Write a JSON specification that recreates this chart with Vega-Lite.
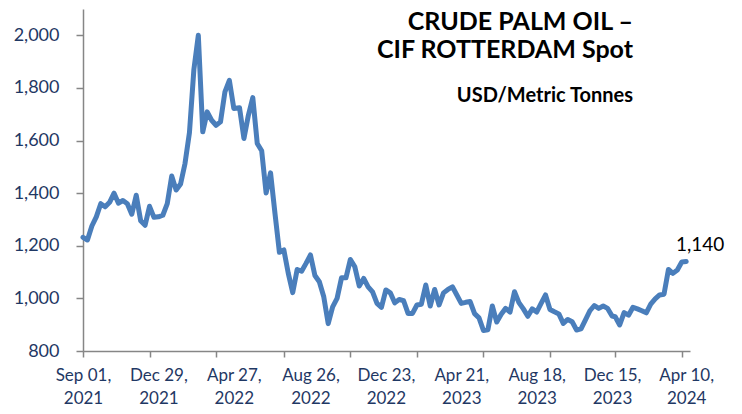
{
  "$schema": "https://vega.github.io/schema/vega-lite/v6.json",
  "autosize": "none",
  "width": 607,
  "height": 342,
  "padding": {"left": 83, "top": 9, "right": 52, "bottom": 63},
  "background": "white",
  "config": {"view": {"stroke": null}, "font": "Lato"},
  "title": {
    "text": ["CRUDE PALM OIL –", "CIF ROTTERDAM Spot"],
    "subtitle": "USD/Metric Tonnes",
    "anchor": "end",
    "frame": "group",
    "dx": -57,
    "dy": 101,
    "font": "Lato",
    "fontSize": 25,
    "fontWeight": "bold",
    "color": "black",
    "lineHeight": 28,
    "subtitleFont": "Lato",
    "subtitleFontSize": 20,
    "subtitleFontWeight": "bold",
    "subtitleColor": "black",
    "subtitlePadding": 23
  },
  "data": {
    "format": {"parse": {"date": "date"}},
    "values": [
      {"date": "2021-09-01", "price": 1232},
      {"date": "2021-09-08", "price": 1222},
      {"date": "2021-09-15", "price": 1275},
      {"date": "2021-09-22", "price": 1310},
      {"date": "2021-09-29", "price": 1360},
      {"date": "2021-10-06", "price": 1348},
      {"date": "2021-10-13", "price": 1365},
      {"date": "2021-10-20", "price": 1400},
      {"date": "2021-10-27", "price": 1362},
      {"date": "2021-11-03", "price": 1372},
      {"date": "2021-11-10", "price": 1360},
      {"date": "2021-11-17", "price": 1320},
      {"date": "2021-11-24", "price": 1392},
      {"date": "2021-12-01", "price": 1295},
      {"date": "2021-12-08", "price": 1278},
      {"date": "2021-12-15", "price": 1350},
      {"date": "2021-12-22", "price": 1308},
      {"date": "2021-12-29", "price": 1310},
      {"date": "2022-01-05", "price": 1316},
      {"date": "2022-01-12", "price": 1360},
      {"date": "2022-01-19", "price": 1465},
      {"date": "2022-01-26", "price": 1412},
      {"date": "2022-02-02", "price": 1435},
      {"date": "2022-02-09", "price": 1513},
      {"date": "2022-02-16", "price": 1630},
      {"date": "2022-02-23", "price": 1870},
      {"date": "2022-03-02", "price": 2000},
      {"date": "2022-03-09", "price": 1633},
      {"date": "2022-03-16", "price": 1709},
      {"date": "2022-03-23", "price": 1677},
      {"date": "2022-03-30", "price": 1658},
      {"date": "2022-04-06", "price": 1671},
      {"date": "2022-04-13", "price": 1785},
      {"date": "2022-04-20", "price": 1829},
      {"date": "2022-04-27", "price": 1722},
      {"date": "2022-05-06", "price": 1725},
      {"date": "2022-05-13", "price": 1608},
      {"date": "2022-05-20", "price": 1696},
      {"date": "2022-05-27", "price": 1763},
      {"date": "2022-06-03", "price": 1589},
      {"date": "2022-06-10", "price": 1561},
      {"date": "2022-06-17", "price": 1401},
      {"date": "2022-06-24", "price": 1477},
      {"date": "2022-07-01", "price": 1323},
      {"date": "2022-07-08", "price": 1175},
      {"date": "2022-07-15", "price": 1184},
      {"date": "2022-07-22", "price": 1095},
      {"date": "2022-07-29", "price": 1022},
      {"date": "2022-08-05", "price": 1110},
      {"date": "2022-08-12", "price": 1103},
      {"date": "2022-08-19", "price": 1133},
      {"date": "2022-08-26", "price": 1165},
      {"date": "2022-09-02", "price": 1087},
      {"date": "2022-09-09", "price": 1063},
      {"date": "2022-09-16", "price": 1006},
      {"date": "2022-09-23", "price": 904},
      {"date": "2022-09-30", "price": 968},
      {"date": "2022-10-07", "price": 1000},
      {"date": "2022-10-14", "price": 1078},
      {"date": "2022-10-21", "price": 1078},
      {"date": "2022-10-28", "price": 1148},
      {"date": "2022-11-04", "price": 1120},
      {"date": "2022-11-11", "price": 1047},
      {"date": "2022-11-18", "price": 1076},
      {"date": "2022-11-25", "price": 1044},
      {"date": "2022-12-02", "price": 1025},
      {"date": "2022-12-09", "price": 981},
      {"date": "2022-12-16", "price": 966},
      {"date": "2022-12-23", "price": 1032},
      {"date": "2022-12-30", "price": 1021},
      {"date": "2023-01-06", "price": 983},
      {"date": "2023-01-13", "price": 996},
      {"date": "2023-01-20", "price": 991},
      {"date": "2023-01-27", "price": 943},
      {"date": "2023-02-03", "price": 943},
      {"date": "2023-02-10", "price": 975},
      {"date": "2023-02-17", "price": 978},
      {"date": "2023-02-24", "price": 1051},
      {"date": "2023-03-03", "price": 971},
      {"date": "2023-03-10", "price": 1034},
      {"date": "2023-03-17", "price": 975},
      {"date": "2023-03-24", "price": 1021},
      {"date": "2023-03-31", "price": 1034},
      {"date": "2023-04-07", "price": 1044},
      {"date": "2023-04-14", "price": 1013},
      {"date": "2023-04-21", "price": 981},
      {"date": "2023-04-28", "price": 985},
      {"date": "2023-05-05", "price": 988},
      {"date": "2023-05-12", "price": 942},
      {"date": "2023-05-19", "price": 926},
      {"date": "2023-05-26", "price": 878},
      {"date": "2023-06-02", "price": 881},
      {"date": "2023-06-09", "price": 971},
      {"date": "2023-06-16", "price": 910},
      {"date": "2023-06-23", "price": 940},
      {"date": "2023-06-30", "price": 962},
      {"date": "2023-07-07", "price": 948},
      {"date": "2023-07-14", "price": 1025},
      {"date": "2023-07-21", "price": 984},
      {"date": "2023-07-28", "price": 960},
      {"date": "2023-08-04", "price": 932},
      {"date": "2023-08-11", "price": 960},
      {"date": "2023-08-18", "price": 948},
      {"date": "2023-08-25", "price": 981},
      {"date": "2023-09-01", "price": 1013},
      {"date": "2023-09-08", "price": 958},
      {"date": "2023-09-15", "price": 949},
      {"date": "2023-09-22", "price": 941},
      {"date": "2023-09-29", "price": 905},
      {"date": "2023-10-06", "price": 920},
      {"date": "2023-10-13", "price": 911},
      {"date": "2023-10-20", "price": 880},
      {"date": "2023-10-27", "price": 884},
      {"date": "2023-11-03", "price": 918},
      {"date": "2023-11-10", "price": 953},
      {"date": "2023-11-17", "price": 973},
      {"date": "2023-11-24", "price": 962},
      {"date": "2023-12-01", "price": 971},
      {"date": "2023-12-08", "price": 962},
      {"date": "2023-12-15", "price": 933},
      {"date": "2023-12-20", "price": 930},
      {"date": "2023-12-27", "price": 899},
      {"date": "2024-01-03", "price": 946},
      {"date": "2024-01-10", "price": 936},
      {"date": "2024-01-17", "price": 966},
      {"date": "2024-01-24", "price": 960},
      {"date": "2024-01-31", "price": 953},
      {"date": "2024-02-07", "price": 945},
      {"date": "2024-02-14", "price": 978},
      {"date": "2024-02-21", "price": 998},
      {"date": "2024-02-28", "price": 1013},
      {"date": "2024-03-06", "price": 1016},
      {"date": "2024-03-13", "price": 1110},
      {"date": "2024-03-20", "price": 1095},
      {"date": "2024-03-27", "price": 1108},
      {"date": "2024-04-03", "price": 1138},
      {"date": "2024-04-10", "price": 1140}
    ]
  },
  "layer": [
    {
      "mark": {"type": "line", "color": "#4A7EBB", "strokeWidth": 5, "strokeJoin": "round", "strokeCap": "round"},
      "encoding": {
        "x": {
          "field": "date",
          "type": "temporal",
          "scale": {"type": "utc", "domain": [{"year": 2021, "month": 9, "date": 1, "utc": true}, {"year": 2024, "month": 4, "date": 16, "utc": true}]},
          "axis": {
            "orient": "bottom",
            "title": null,
            "labels": false,
            "grid": false,
            "domainColor": "#868686",
            "domainWidth": 1.5,
            "tickColor": "#868686",
            "tickWidth": 1.5,
            "tickSize": 6,
            "values": [
              {"year": 2021, "month": 9, "date": 1, "utc": true},
              {"year": 2021, "month": 12, "date": 15, "utc": true},
              {"year": 2022, "month": 3, "date": 30, "utc": true},
              {"year": 2022, "month": 7, "date": 15, "utc": true},
              {"year": 2022, "month": 10, "date": 28, "utc": true},
              {"year": 2023, "month": 2, "date": 10, "utc": true},
              {"year": 2023, "month": 5, "date": 26, "utc": true},
              {"year": 2023, "month": 9, "date": 8, "utc": true},
              {"year": 2023, "month": 12, "date": 20, "utc": true},
              {"year": 2024, "month": 4, "date": 3, "utc": true}
            ]
          }
        },
        "y": {
          "field": "price",
          "type": "quantitative",
          "scale": {"domain": [800, 2100], "nice": false, "zero": false},
          "axis": {
            "title": null,
            "grid": false,
            "values": [800, 1000, 1200, 1400, 1600, 1800, 2000],
            "format": ",d",
            "domainColor": "#868686",
            "domainWidth": 1.5,
            "tickColor": "#868686",
            "tickWidth": 1.5,
            "tickSize": 7,
            "labelPadding": 17,
            "labelFont": "Lato",
            "labelFontSize": 18,
            "labelColor": "#1F3864"
          }
        }
      }
    },
    {
      "transform": [{"filter": "utcyear(datum.date) == 2024 && utcmonth(datum.date) == 3 && utcdate(datum.date) == 10"}],
      "mark": {"type": "text", "font": "Lato", "fontSize": 19, "color": "black", "align": "center", "baseline": "alphabetic", "dx": 14, "dy": -11},
      "encoding": {
        "x": {
          "field": "date",
          "type": "temporal",
          "axis": {
            "orient": "bottom",
            "title": null,
            "ticks": false,
            "domain": false,
            "grid": false,
            "labelFont": "Lato",
            "labelFontSize": 17,
            "labelColor": "#1F3864",
            "labelLineHeight": 23,
            "labelPadding": 16,
            "labelAlign": "center",
            "labelOverlap": false,
            "labelFlush": false,
            "labelExpr": "[utcFormat(datum.value, '%b %d,'), utcFormat(datum.value, '%Y')]",
            "values": [
              {"year": 2021, "month": 9, "date": 1, "utc": true},
              {"year": 2021, "month": 12, "date": 29, "utc": true},
              {"year": 2022, "month": 4, "date": 27, "utc": true},
              {"year": 2022, "month": 8, "date": 26, "utc": true},
              {"year": 2022, "month": 12, "date": 23, "utc": true},
              {"year": 2023, "month": 4, "date": 21, "utc": true},
              {"year": 2023, "month": 8, "date": 18, "utc": true},
              {"year": 2023, "month": 12, "date": 15, "utc": true},
              {"year": 2024, "month": 4, "date": 10, "utc": true}
            ]
          }
        },
        "y": {"field": "price", "type": "quantitative"},
        "text": {"field": "price", "type": "quantitative", "format": ","}
      }
    }
  ],
  "resolve": {"axis": {"x": "independent"}}
}
